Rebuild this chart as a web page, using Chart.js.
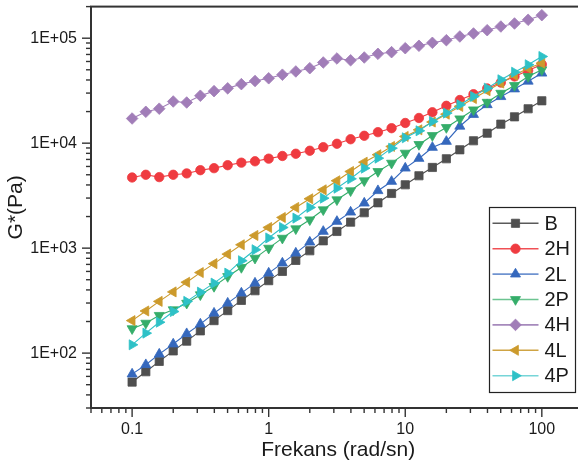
<!DOCTYPE html>
<html>
<head>
<meta charset="utf-8">
<script src="https://cdn.jsdelivr.net/npm/chart.js@4/dist/chart.umd.min.js"></script>
<style>
html,body{margin:0;padding:0;background:#fff;overflow:hidden;}
#wrap{width:592px;height:466px;}
</style>
</head>
<body>
<div id="wrap"><canvas id="c" width="592" height="466"></canvas></div>
<script>
// ---------- data ----------
const freq = [0.1, 0.126, 0.158, 0.2, 0.251, 0.316, 0.398, 0.501, 0.631, 0.794,
              1, 1.26, 1.58, 2, 2.51, 3.16, 3.98, 5.01, 6.31, 7.94,
              10, 12.6, 15.8, 20, 25.1, 31.6, 39.8, 50.1, 63.1, 79.4, 100];
const seriesNames = ['B', '2H', '2L', '2P', '4H', '4L', '4P'];
const B  = [53, 66.5, 83.4, 105, 130, 163, 204, 254, 318, 393, 490, 600, 764, 944, 1175, 1442, 1769, 2174, 2705, 3318, 4016, 4894, 5870, 7105, 8650, 10540, 12450, 15170, 17830, 21270, 25340];
const H2 = [4710, 5000, 4750, 5000, 5150, 5530, 5780, 6170, 6520, 6720, 7120, 7550, 7930, 8470, 9160, 9870, 10900, 11760, 12730, 13890, 15570, 17380, 19690, 22690, 25770, 29280, 33200, 37800, 43200, 49200, 56200];
const L2 = [63.1, 77.5, 97.7, 122, 153, 189, 240, 299, 373, 464, 578, 720, 896, 1140, 1442, 1795, 2202, 2684, 3524, 4318, 5780, 7150, 9100, 10380, 14490, 18760, 23230, 27730, 32810, 38900, 46420];
const P2 = [171, 193, 229, 259, 299, 360, 432, 537, 655, 803, 1000, 1245, 1530, 1863, 2321, 2891, 3524, 4385, 5375, 6455, 8040, 9730, 11830, 14110, 17070, 20780, 24550, 29920, 35460, 43190, 50000];
const H4 = [17180, 19900, 21300, 24950, 24400, 28300, 31300, 33300, 36500, 39100, 41500, 44900, 48200, 51800, 58700, 64100, 61600, 65500, 71000, 73600, 80300, 84700, 90400, 95700, 103800, 110900, 119200, 129200, 138100, 149700, 165700];
const L4 = [204, 252, 311, 383, 473, 585, 712, 877, 1077, 1321, 1574, 1960, 2442, 2953, 3595, 4385, 5375, 6590, 7760, 9310, 11590, 13400, 15900, 18900, 22400, 26600, 31600, 37400, 44300, 51800, 57800];
const P4 = [120, 155, 197, 249, 311, 381, 464, 578, 759, 966, 1251, 1574, 1932, 2442, 2995, 3727, 4578, 5780, 7200, 8960, 11250, 13120, 16110, 19330, 23230, 27860, 33430, 40180, 47430, 55860, 66950];

const xMajorTicks = [0.1, 1, 10, 100];
const xTickLabels = ['0.1', '1', '10', '100'];
const yMajorTicks = [100, 1000, 10000, 100000];
const yTickLabels = ['1E+02', '1E+03', '1E+04', '1E+05'];
const xTitle = 'Frekans (rad/sn)';
const yTitle = 'G*(Pa)';

// ---------- styles ----------
const FONT = "'Liberation Sans', Arial, sans-serif";
const TXT = '#1a1a1a';
const AX = '#333333';
const styles = [
  {color: '#4f4f4f', line: '#5a5a5a', ps: 'rect',     rot: 0,   r: 5.8},
  {color: '#ef3b40', line: '#f05055', ps: 'circle',   rot: 0,   r: 4.7},
  {color: '#3568bd', line: '#6f93d0', ps: 'triangle', rot: 0,   r: 5.8},
  {color: '#35ad6a', line: '#6cc491', ps: 'triangle', rot: 180, r: 5.8},
  {color: '#a17db8', line: '#a68abc', ps: 'rectRot',  rot: 0,   r: 5.8},
  {color: '#cc9a2c', line: '#cfa444', ps: 'triangle', rot: 270, r: 5.8},
  {color: '#2ec1c7', line: '#77d5d8', ps: 'triangle', rot: 90,  r: 5.8}
];
const allSeries = [B, H2, L2, P2, H4, L4, P4];

function minorTicks(lo, hi) {
  const out = [];
  for (let e = Math.floor(Math.log10(lo)); e <= Math.ceil(Math.log10(hi)); e++) {
    for (let m = 1; m <= 9; m++) {
      const v = m * Math.pow(10, e);
      if (v >= lo * 0.999 && v <= hi * 1.001) out.push(v);
    }
  }
  return out;
}
const X_MIN = 0.05, X_MAX = 208.5, Y_MIN = 30, Y_MAX = 200000;

const datasets = allSeries.map((arr, i) => ({
  label: seriesNames[i],
  data: freq.map((f, k) => ({x: f, y: arr[k]})),
  borderColor: styles[i].color,
  backgroundColor: styles[i].color,
  borderWidth: 1.1,
  pointStyle: styles[i].ps,
  rotation: styles[i].rot,
  pointRotation: styles[i].rot,
  pointRadius: styles[i].r,
  pointBorderWidth: 0.8,
  pointBackgroundColor: styles[i].color,
  pointBorderColor: styles[i].color,
  order: allSeries.length - i,
  tension: 0
}));

function isMajor(v, majors) { return majors.some(m => Math.abs(v / m - 1) < 1e-6); }

const frame = {
  id: 'frame',
  afterDraw(chart) {
    const ctx = chart.ctx, a = chart.chartArea;
    ctx.save();
    ctx.strokeStyle = AX;
    ctx.lineWidth = 2;
    ctx.strokeRect(a.left, a.top, a.right - a.left + 4, a.bottom - a.top);
    // ticks
    ctx.lineWidth = 1.4;
    const xs = chart.scales.x, ys = chart.scales.y;
    xs.ticks.forEach(t => {
      const px = xs.getPixelForValue(t.value);
      const len = isMajor(t.value, xMajorTicks) ? 9 : 5;
      ctx.beginPath(); ctx.moveTo(px, a.bottom); ctx.lineTo(px, a.bottom + len); ctx.stroke();
    });
    ys.ticks.forEach(t => {
      const py = ys.getPixelForValue(t.value);
      const len = isMajor(t.value, yMajorTicks) ? 9 : 5;
      ctx.beginPath(); ctx.moveTo(a.left, py); ctx.lineTo(a.left - len, py); ctx.stroke();
    });
    // legend
    const bx = 489.5, by = 207.5, bw = 86, bh = 185;
    ctx.fillStyle = '#fff';
    ctx.fillRect(bx, by, bw, bh);
    ctx.strokeStyle = '#222';
    ctx.lineWidth = 1.2;
    ctx.strokeRect(bx, by, bw, bh);
    const rowH = 25.4;
    chart.data.datasets.forEach((ds, i) => {
      const y = by + 15.8 + i * rowH;
      const st = styles[i];
      ctx.strokeStyle = st.line;
      ctx.lineWidth = 1.6;
      ctx.beginPath(); ctx.moveTo(bx + 3, y); ctx.lineTo(bx + 49, y); ctx.stroke();
      ctx.fillStyle = st.color;
      ctx.strokeStyle = st.color;
      ctx.lineWidth = 0.8;
      const opts = {pointStyle: st.ps, rotation: st.rot, radius: st.r, borderWidth: 0.8};
      if (Chart.helpers && Chart.helpers.drawPoint) {
        Chart.helpers.drawPoint(ctx, opts, bx + 26, y);
      }
      ctx.fillStyle = TXT;
      ctx.font = '20px ' + FONT;
      ctx.textAlign = 'left';
      ctx.textBaseline = 'middle';
      ctx.fillText(ds.label, bx + 55, y + 1);
    });
    ctx.restore();
  }
};

new Chart(document.getElementById('c'), {
  type: 'line',
  data: {datasets},
  plugins: [frame],
  options: {
    responsive: false,
    animation: false,
    devicePixelRatio: 1,
    layout: {padding: {top: 5, right: 0, left: 0, bottom: 0}},
    plugins: {legend: {display: false}, tooltip: {enabled: false}},
    scales: {
      x: {
        type: 'logarithmic',
        bounds: 'data',
        min: X_MIN, max: X_MAX,
        grid: {display: false, drawTicks: true, tickLength: 9},
        border: {display: false},
        afterBuildTicks: s => { s.ticks = minorTicks(X_MIN, X_MAX).map(v => ({value: v})); },
        afterFit: s => { s.height = 58; s.paddingLeft = 0; s.paddingRight = 0; },
        ticks: {
          autoSkip: false, maxRotation: 0, padding: 3, color: TXT,
          font: {family: FONT, size: 16},
          callback: v => { const k = xMajorTicks.findIndex(m => Math.abs(v / m - 1) < 1e-6); return k >= 0 ? xTickLabels[k] : ''; }
        },
        title: {display: true, text: xTitle, color: TXT, font: {family: FONT, size: 21}, padding: {top: 0, bottom: 3.4}}
      },
      y: {
        type: 'logarithmic',
        bounds: 'data',
        min: Y_MIN, max: Y_MAX,
        grid: {display: false, drawTicks: true, tickLength: 9},
        border: {display: false},
        afterBuildTicks: s => { s.ticks = minorTicks(Y_MIN, Y_MAX).map(v => ({value: v})); },
        afterFit: s => { s.width = 91; s.paddingTop = 0; s.paddingBottom = 0; },
        ticks: {
          autoSkip: false, padding: 5, color: TXT,
          font: {family: FONT, size: 16},
          callback: v => { const k = yMajorTicks.findIndex(m => Math.abs(v / m - 1) < 1e-6); return k >= 0 ? yTickLabels[k] : ''; }
        },
        title: {display: true, text: yTitle, color: TXT, font: {family: FONT, size: 21}, padding: {top: 3.4, bottom: 0}}
      }
    }
  }
});
</script>
</body>
</html>
